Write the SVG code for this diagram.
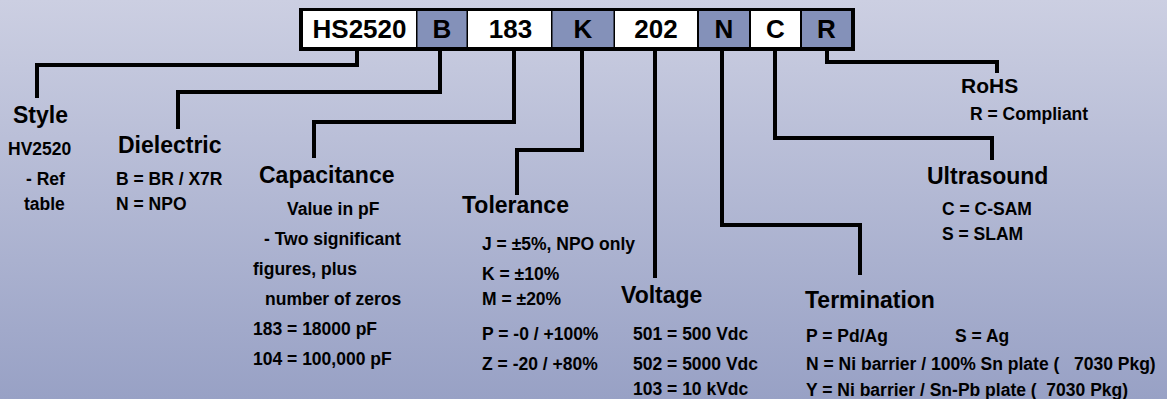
<svg xmlns="http://www.w3.org/2000/svg" width="1167" height="399" viewBox="0 0 1167 399">
<defs>
<linearGradient id="bg" x1="0" y1="0" x2="0" y2="1">
<stop offset="0" stop-color="#CCCFE2"/>
<stop offset="1" stop-color="#98A1C5"/>
</linearGradient>
<style>
text{font-family:"Liberation Sans",Arial,sans-serif;font-weight:bold;fill:#000;white-space:pre}
.cell{font-size:26px;text-anchor:middle}
.h{font-size:23px}
.t{font-size:17.5px}
.w{fill:#FFFFFF}
.b{fill:#8491B9}
.conn{fill:none;stroke:#000;stroke-width:4;stroke-linejoin:miter;stroke-linecap:butt}
</style>
</defs>
<rect width="1167" height="399" fill="url(#bg)"/>
<g id="code-bar">
<rect x="299" y="8" width="556" height="43" fill="#000"/>
<rect class="w" x="303" y="11" width="113" height="36"/>
<rect class="b" x="417.5" y="11" width="49" height="36"/>
<rect class="w" x="468" y="11" width="83" height="36"/>
<rect class="b" x="552.5" y="11" width="61" height="36"/>
<rect class="w" x="615" y="11" width="82" height="36"/>
<rect class="b" x="699" y="11" width="50" height="36"/>
<rect class="w" x="751" y="11" width="49" height="36"/>
<rect class="b" x="802" y="11" width="49" height="36"/>
<text class="cell" x="359.5" y="38">HS2520</text>
<text class="cell" x="442" y="38">B</text>
<text class="cell" x="510.5" y="38">183</text>
<text class="cell" x="583" y="38">K</text>
<text class="cell" x="656" y="38">202</text>
<text class="cell" x="724" y="38">N</text>
<text class="cell" x="775.5" y="38">C</text>
<text class="cell" x="826.5" y="38">R</text>
</g>
<g id="connectors">
<path class="conn" d="M357 51 V65 H37 V98"/>
<path class="conn" d="M440 51 V92 H178 V129"/>
<path class="conn" d="M514 51 V122 H314 V158"/>
<path class="conn" d="M582 51 V150 H517 V195"/>
<path class="conn" d="M655 51 V278"/>
<path class="conn" d="M722 51 V225 H860 V275"/>
<path class="conn" d="M775 51 V138 H992 V160"/>
<path class="conn" d="M827 51 V62 H997 V73"/>
</g>
<g id="style">
<text class="h" x="13" y="123">Style</text>
<text class="t" x="8" y="155">HV2520</text>
<text class="t" x="26" y="185">- Ref</text>
<text class="t" x="24" y="210">table</text>
</g>
<g id="dielectric">
<text class="h" x="118" y="153">Dielectric</text>
<text class="t" x="116" y="185">B = BR / X7R</text>
<text class="t" x="116" y="210">N = NPO</text>
</g>
<g id="capacitance">
<text class="h" x="259" y="183">Capacitance</text>
<text class="t" x="287" y="215">Value in pF</text>
<text class="t" x="264" y="245">- Two significant</text>
<text class="t" x="253" y="275">figures, plus</text>
<text class="t" x="265" y="305">number of zeros</text>
<text class="t" x="253" y="335">183 = 18000 pF</text>
<text class="t" x="253" y="365">104 = 100,000 pF</text>
</g>
<g id="tolerance">
<text class="h" x="462" y="213">Tolerance</text>
<text class="t" x="482" y="250">J = ±5%, NPO only</text>
<text class="t" x="482" y="280">K = ±10%</text>
<text class="t" x="482" y="305">M = ±20%</text>
<text class="t" x="482" y="340">P = -0 / +100%</text>
<text class="t" x="482" y="370">Z = -20 / +80%</text>
</g>
<g id="voltage">
<text class="h" x="621" y="303">Voltage</text>
<text class="t" x="633" y="340">501 = 500 Vdc</text>
<text class="t" x="633" y="370">502 = 5000 Vdc</text>
<text class="t" x="633" y="395">103 = 10 kVdc</text>
</g>
<g id="termination">
<text class="h" x="805" y="308">Termination</text>
<text class="t" x="806" y="342">P = Pd/Ag</text>
<text class="t" x="955" y="342">S = Ag</text>
<text class="t" x="806" y="370">N = Ni barrier / 100% Sn plate (   7030 Pkg)</text>
<text class="t" x="806" y="396">Y = Ni barrier / Sn-Pb plate (  7030 Pkg)</text>
</g>
<g id="ultrasound">
<text class="h" x="927" y="184">Ultrasound</text>
<text class="t" x="942" y="215">C = C-SAM</text>
<text class="t" x="942" y="240">S = SLAM</text>
</g>
<g id="rohs">
<text class="h" x="961" y="93" style="font-size:21px">RoHS</text>
<text class="t" x="970" y="120">R = Compliant</text>
</g>
</svg>
